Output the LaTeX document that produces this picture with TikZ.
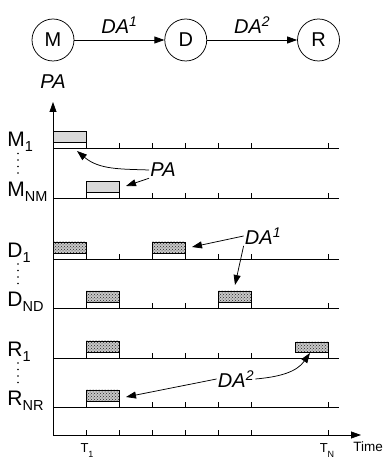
\documentclass[tikz,border=0pt]{standalone}
\usepackage{fontspec}
\setmainfont{Liberation Sans}
\usetikzlibrary{arrows.meta, positioning, patterns}

% label with a lowered index, e.g. M_NM
\newcommand{\idx}[3][14.5]{#2\raisebox{-5pt}{\fontsize{#1}{#1}\selectfont #3}}

\begin{document}
\begin{tikzpicture}[
  x=1pt, y=1pt,
  >={Triangle[length=10pt,width=7pt]},
  line width=0.75pt,
  font=\fontsize{20}{22}\selectfont,
  state/.style={circle, draw, minimum size=42pt, inner sep=0pt},
  flow/.style={font=\fontsize{20}{22}\selectfont\itshape, inner sep=1pt},
  rowline/.style={line width=0.8pt},
  rowlab/.style={font=\fontsize{21}{22}\selectfont, anchor=base west, inner sep=0pt},
  pablock/.style={draw, fill=black!15},
  dablock/.style={draw, preaction={fill=black!22}, pattern=crosshatch dots, pattern color=black!85},
  tick/.style={font=\fontsize{13}{14}\selectfont, anchor=north, inner sep=1pt},
]
\useasboundingbox (0,0) rectangle (384,458);

% --- Top / message flow ---
\node[state] (M) at (53,418) {M};
\node[state, right=90pt of M] (D) {D};
\node[state, right=90pt of D] (R) {R};

\draw[->] (M) -- node[flow, above=5pt] {DA\textsuperscript{1}} (D);
\draw[->] (D) -- node[flow, above=5pt] {DA\textsuperscript{2}} (R);
\node[flow, below=12pt of M] (PA) {PA};

% --- Axes ---
\coordinate (O) at (53,23);
\coordinate (Ytop) at (53,356);
\coordinate (Xend) at (361,23);
\draw[->] (O) -- (Ytop);
\draw[->] (O) -- (Xend);
\node[font=\fontsize{13.5}{14}\selectfont, anchor=north west, inner sep=0pt] (time) at (353,17) {Time};

\foreach \t in {86,119,152,185,218,251,328}
  \draw (\t,23) -- (\t,28);
\node[tick] (T1) at (87,16) {\idx[9]{T}{1}};
\node[tick] (TN) at (327,16) {\idx[9]{T}{N}};

% --- Rows (one per agent) ---
\foreach \name/\lab/\sub/\y in {m1/M/1/309.5, mnm/M/NM/260, d1/D/1/199,
                                dnd/D/ND/150, r1/R/1/100, rnr/R/NR/51} {
  \coordinate (\name) at (53,\y);
  \draw[rowline] (\name) -- (339,\y);
  \foreach \t in {86,119,152,185,218,251,328}
    \draw (\t,\y) -- (\t,\y+5);
  \node[rowlab] (\name lab) at (7,\y+1.5) {\idx{\lab}{\sub}};
}

% vertical dots between first and last of a group
\foreach \y in {309.5,199,100}
  \foreach \d in {5,11.5,18,24.5}
    \fill (18,\y-\d) circle (0.9pt);

% --- Slots: x start / row y / style ---
\foreach \x/\y/\s in {53/309.5/pablock, 86/260/pablock,
                      53/199/dablock, 152/199/dablock,
                      86/150/dablock, 218/150/dablock,
                      86/100/dablock, 86/51/dablock} {
  \draw (\x,\y) rectangle (\x+33,\y+6);
  \draw[\s] (\x,\y+6) rectangle (\x+33,\y+17);
}
\draw[dablock] (295,106) rectangle (328,116);

% --- Annotations ---
\node[flow] (PAb) at (163,288) {PA};
\coordinate (pa1) at (77,307);
\coordinate (pa2) at (126,272);
\draw[->] (PAb.west) to[out=178, in=-40] (pa1);
\draw[->] (PAb.south west) -- (pa2);

\node[flow] (DA1) at (263,222) {DA\textsuperscript{1}};
\coordinate (da1a) at (192,211);
\coordinate (da1b) at (235,173);
\draw[->] (DA1.west) -- (da1a);
\draw[->] (DA1.south west) -- (da1b);

\node[flow] (DA2) at (236,79) {DA\textsuperscript{2}};
\coordinate (da2a) at (310,105);
\coordinate (da2b) at (126,61);
\draw[->] (DA2.east) to[out=5, in=-125] (da2a);
\draw[->] (DA2.west) -- (da2b);

\end{tikzpicture}
\end{document}
